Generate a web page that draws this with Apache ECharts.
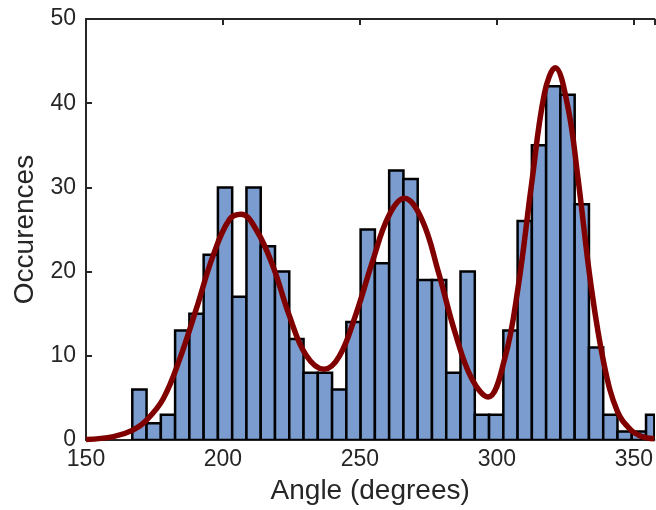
<!DOCTYPE html>
<html>
<head>
<meta charset="utf-8">
<script src="https://cdn.jsdelivr.net/npm/echarts@6/dist/echarts.min.js"></script>
<style>
	html, body { margin: 0; padding: 0; background: #fff; }
	#chart { width: 656px; height: 510px; }
</style>
</head>
<body>
<div id="chart"></div>
<script>
// histogram: first bin edge and bin width (degrees), counts per bin
const binStart = 166.9;
const binWidth = 5.21;
const counts = [6, 2, 3, 13, 15, 22, 30, 17, 30, 23, 20, 12, 8, 8, 6, 14, 25, 21,
	32, 31, 19, 19, 8, 20, 3, 3, 13, 26, 35, 42, 41, 28, 11, 3, 1, 1, 3];

// fitted curve
const fitX = [150, 160, 167.3, 172.2, 178.2, 184.3, 190.3, 196.4, 202.4, 206.7, 212.1, 218.2,
	224.2, 230.3, 236.9, 242.4, 248.4, 254.5, 260.5, 266.2, 272.6, 278.7, 284.7, 290.8,
	296.8, 302.9, 307.7, 312.6, 317.4, 321.3, 325.9, 329.5, 334.4, 339.2, 344.0, 348.9, 353, 357.5];
const fitY = [0.05, 0.4, 1.2, 2.4, 4.9, 9.7, 15.6, 21.9, 26.2, 26.8, 25, 20.7,
	14.8, 10.1, 8.4, 9.9, 14.8, 21.1, 26.6, 28.7, 26.2, 19.9, 12.8, 7.3,
	5.1, 9.7, 18, 30.2, 41.2, 44.2, 39.6, 31.4, 18.3, 8.9, 3.4, 1.2, 0.4, 0.15];

const yTicks = [0, 10, 20, 30, 40, 50];

let chart = echarts.init(document.getElementById('chart'));

let barData = counts.map((c, i) => [binStart + i * binWidth, binStart + (i + 1) * binWidth, c]);
let fitData = fitX.map((x, i) => [x, fitY[i]]);

const axisColor = '#262626';
const font = 'Liberation Sans, Helvetica, Arial, sans-serif';

let option = {
	animation: false,
	grid: { left: 86, right: 0, top: 19, bottom: 69, containLabel: false },
	xAxis: [{
		type: 'value',
		min: 150,
		max: 357.5,
		interval: 50,
		name: 'Angle (degrees)',
		nameLocation: 'middle',
		nameGap: 37,
		nameTextStyle: { color: axisColor, fontSize: 28, fontFamily: font },
		axisLine: { show: true, lineStyle: { color: axisColor, width: 2 } },
		axisTick: { show: true, inside: true, length: 6, lineStyle: { color: axisColor, width: 2 } },
		axisLabel: { color: axisColor, fontSize: 23, fontFamily: font, margin: 8, showMaxLabel: false },
		splitLine: { show: false }
	}, {
		type: 'value',
		position: 'top',
		min: 150,
		max: 357.5,
		interval: 50,
		axisLine: { show: true, onZero: false, lineStyle: { color: axisColor, width: 2 } },
		axisTick: { show: true, inside: true, length: 6, lineStyle: { color: axisColor, width: 2 } },
		axisLabel: { show: false },
		splitLine: { show: false }
	}],
	yAxis: {
		type: 'value',
		min: 0,
		max: 50,
		interval: 10,
		name: 'Occurences',
		nameLocation: 'middle',
		nameGap: 44,
		nameTextStyle: { color: axisColor, fontSize: 28, fontFamily: font },
		axisLine: { show: true, lineStyle: { color: axisColor, width: 2 } },
		axisTick: { show: true, inside: true, length: 6, lineStyle: { color: axisColor, width: 2 } },
		axisLabel: {
			color: axisColor, fontSize: 23, fontFamily: font, margin: 10,
			formatter: v => yTicks.includes(v) ? String(v) : ''
		},
		splitLine: { show: false }
	},
	series: [{
		type: 'custom',
		clip: true,
		data: barData,
		encode: { x: [0, 1], y: 2 },
		renderItem: (params, api) => {
			let p0 = api.coord([api.value(0), 0]);
			let p1 = api.coord([api.value(1), api.value(2)]);
			let rect = echarts.graphic.clipRectByRect({
				x: p0[0], y: p1[1], width: p1[0] - p0[0], height: p0[1] - p1[1]
			}, params.coordSys);
			if (!rect) return;
			return {
				type: 'rect',
				shape: rect,
				style: { fill: '#7a9ccf', stroke: '#000', lineWidth: 2.5 }
			};
		},
		z: 2
	}, {
		type: 'line',
		data: fitData,
		smooth: 0.4,
		showSymbol: false,
		clip: true,
		lineStyle: { color: '#800000', width: 5.5 },
		z: 3
	}]
};

chart.setOption(option);
</script>
</body>
</html>
